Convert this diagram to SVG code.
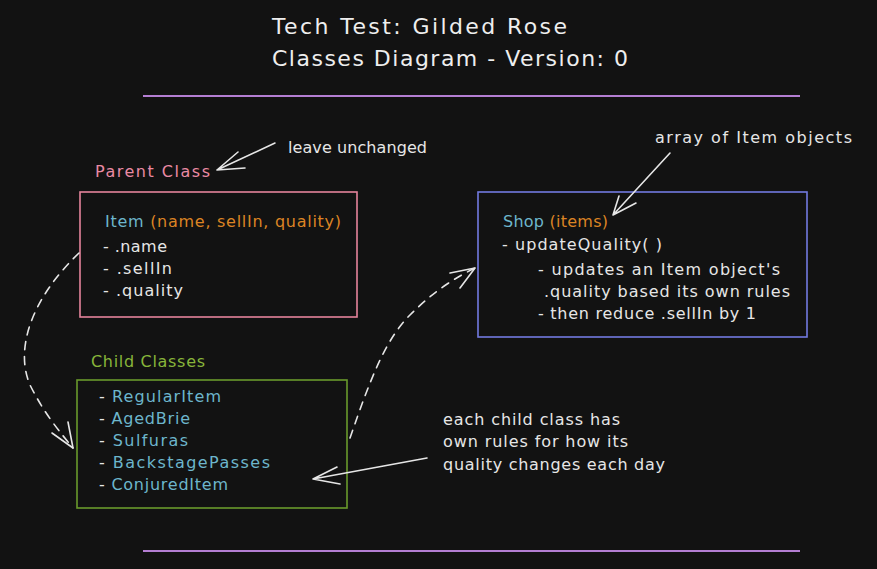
<svg xmlns="http://www.w3.org/2000/svg" width="877" height="569" viewBox="0 0 877 569">
  <defs>
    <style>
      text { font-family: "DejaVu Sans", "Liberation Sans", sans-serif; font-size: 16px; fill: #e6e6e6; }
      .title { font-size: 22px; fill: #eeeeee; }
      .cls { fill: #6db6cc; }
      .arg { fill: #dc8424; }
      .pink { fill: #ea8aa4; }
      .green { fill: #88b53a; }
      .rule { stroke: #b47ed2; stroke-width: 2; fill: none; }
      .box { fill: none; stroke-width: 1.6; }
      .line { fill: none; stroke: #e6e6e6; stroke-width: 1.6; stroke-linecap: round; stroke-linejoin: round; }
      .dash { stroke-dasharray: 8 7; }
    </style>
  </defs>

  <rect x="0" y="0" width="877" height="569" fill="#121212"/>

  <!-- heading -->
  <g id="title">
    <text class="title" x="272" y="34" textLength="295">Tech Test: Gilded Rose</text>
    <text class="title" x="272" y="66" textLength="356">Classes Diagram - Version: 0</text>
  </g>

  <!-- separators -->
  <line class="rule" x1="143" y1="96" x2="800" y2="96"/>
  <line class="rule" x1="143" y1="551" x2="800" y2="551"/>

  <!-- Item (parent class) -->
  <g id="item">
    <text class="pink" x="95" y="177" textLength="115">Parent Class</text>
    <rect class="box" x="80" y="192" width="277" height="125" stroke="#e5849c"/>
    <text x="105" y="227" textLength="236"><tspan class="cls">Item</tspan> <tspan class="arg">(name, sellIn, quality)</tspan></text>
    <text x="103" y="252" textLength="64">- .name</text>
    <text x="103" y="274" textLength="69">- .sellIn</text>
    <text x="103" y="296" textLength="80">- .quality</text>
  </g>

  <g id="note-parent">
    <text x="288" y="153" textLength="139">leave unchanged</text>
  </g>

  <!-- Shop -->
  <g id="shop">
    <rect class="box" x="478" y="192" width="329" height="145" stroke="#727ae0"/>
    <text x="503" y="227" textLength="105"><tspan class="cls">Shop</tspan> <tspan class="arg">(items)</tspan></text>
    <text x="502" y="250" textLength="160">- updateQuality( )</text>
    <text x="538" y="275" textLength="242">- updates an Item object's</text>
    <text x="544" y="297" textLength="246">.quality based its own rules</text>
    <text x="538" y="319" textLength="218">- then reduce .sellIn by 1</text>
  </g>

  <g id="note-shop">
    <text x="655" y="143" textLength="197">array of Item objects</text>
  </g>

  <!-- child classes -->
  <g id="children">
    <text class="green" x="91" y="367" textLength="114">Child Classes</text>
    <rect class="box" x="77" y="380" width="270" height="128" stroke="#699a2c"/>
    <text x="99" y="402" textLength="122">- <tspan class="cls">RegularItem</tspan></text>
    <text x="99" y="424" textLength="91">- <tspan class="cls">AgedBrie</tspan></text>
    <text x="99" y="446" textLength="89">- <tspan class="cls">Sulfuras</tspan></text>
    <text x="99" y="468" textLength="171">- <tspan class="cls">BackstagePasses</tspan></text>
    <text x="99" y="490" textLength="129">- <tspan class="cls">ConjuredItem</tspan></text>
  </g>

  <g id="note-children">
    <text x="443" y="425" textLength="177">each child class has</text>
    <text x="443" y="447" textLength="185">own rules for how its</text>
    <text x="443" y="470" textLength="222">quality changes each day</text>
  </g>

  <!-- connectors -->
  <g id="connectors">
    <!-- leave unchanged -> Parent Class -->
    <path class="line" d="M275 143 L217 170 M217 170 L238 152 M217 170 L245 168"/>
    <!-- array of Item objects -> Shop (items) -->
    <path class="line" d="M670 153 L613 215 M613 215 L619 196 M613 215 L636 203"/>
    <!-- Item -> child classes (inheritance) -->
    <path class="line dash" d="M79 253 C 30 300, 15 350, 30 385 C 45 415, 60 432, 73 448"/>
    <path class="line" d="M73 448 L52 433 M73 448 L68 422"/>
    <!-- child classes -> Shop -->
    <path class="line dash" d="M350 438 C 370 380, 385 340, 410 315 C 435 290, 455 278, 475 268"/>
    <path class="line" d="M475 268 L450 273 M475 268 L460 288"/>
    <!-- note -> child classes -->
    <path class="line" d="M427 458 L313 479 M313 479 L337 467 M313 479 L340 484"/>
  </g>
</svg>
